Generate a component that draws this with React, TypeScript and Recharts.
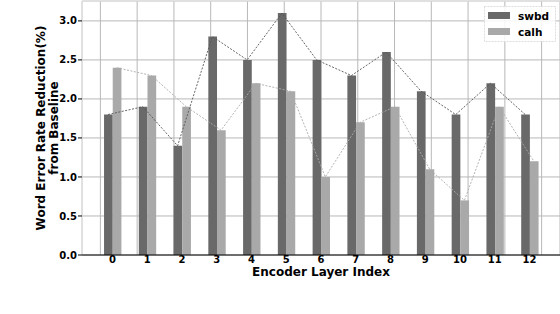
import React from "react";
import {
  ComposedChart,
  Bar,
  Line,
  XAxis,
  YAxis,
  CartesianGrid,
  ReferenceLine,
} from "recharts";

const layers = [0, 1, 2, 3, 4, 5, 6, 7, 8, 9, 10, 11, 12];
const swbd = [1.8, 1.9, 1.4, 2.8, 2.5, 3.1, 2.5, 2.3, 2.6, 2.1, 1.8, 2.2, 1.8];
const calh = [2.4, 2.3, 1.9, 1.6, 2.2, 2.1, 1.0, 1.7, 1.9, 1.1, 0.7, 1.9, 1.2];
const yTicks = [0, 0.5, 1.0, 1.5, 2.0, 2.5, 3.0];

const data = layers.map((l, i) => ({ layer: l, swbd: swbd[i], calh: calh[i] }));

const FONT = "'DejaVu Sans', sans-serif";
const DARK = "#696969";
const LIGHT = "#a9a9a9";

const YLabel = () => (
  <g>
    <text
      transform="translate(45,128) rotate(-90)"
      textAnchor="middle"
      fontFamily={FONT}
      fontWeight="bold"
      fontSize={12}
      fill="#000"
    >
      Word Error Rate Reduction(%)
    </text>
    <text
      transform="translate(58,128) rotate(-90)"
      textAnchor="middle"
      fontFamily={FONT}
      fontWeight="bold"
      fontSize={12}
      fill="#000"
    >
      from Baseline
    </text>
  </g>
);

const Legend = () => (
  <g fontFamily={FONT} fontWeight="bold" fontSize={10.5}>
    <rect x={484.5} y={6.5} width={71} height={35} fill="#fff" fillOpacity={0.85} stroke="#ddd" strokeDasharray="2 1" />
    <rect x={488} y={12} width={22} height={7} fill={DARK} />
    <text x={518} y={19.5} fill="#000">swbd</text>
    <rect x={488} y={28} width={22} height={7} fill={LIGHT} />
    <text x={518} y={35.5} fill="#000">calh</text>
  </g>
);

export default function App() {
  return (
    <div style={{ position: "fixed", left: 0, top: 0, width: 560, height: 314, background: "#fff" }}>
      <ComposedChart
        width={560}
        height={314}
        data={data}
        margin={{ top: 1, right: 0, bottom: 0, left: 12 }}
        barGap={0}
      >
        <CartesianGrid stroke="#b8b8b8" strokeWidth={1} />
        <XAxis
          xAxisId="main"
          dataKey="layer"
          type="number"
          domain={[-0.875, 12.875]}
          ticks={layers}
          interval={0}
          allowDataOverflow
          axisLine={{ stroke: "#000", strokeWidth: 1.2 }}
          tickLine={false}
          tickSize={0}
          tickMargin={1}
          height={59}
          tick={{ fontFamily: FONT, fontWeight: "bold", fontSize: 10, fill: "#000" }}
          label={{
            value: "Encoder Layer Index",
            position: "insideTop",
            offset: 12,
            style: { fontFamily: FONT, fontWeight: "bold", fontSize: 12, fill: "#000" },
          }}
        />
        <XAxis xAxisId="s" dataKey="layer" type="number" domain={[-0.75, 13]} hide height={0} allowDataOverflow />
        <XAxis xAxisId="c" dataKey="layer" type="number" domain={[-1, 12.75]} hide height={0} allowDataOverflow />
        <YAxis
          type="number"
          domain={[0, 3.255]}
          ticks={yTicks}
          allowDataOverflow
          width={70}
          axisLine={false}
          tickLine={{ stroke: "#000" }}
          tickSize={4}
          tickMargin={1}
          tickFormatter={(v: number) => v.toFixed(1)}
          tick={{ fontFamily: FONT, fontWeight: "bold", fontSize: 10, fill: "#000" }}
        />
        <ReferenceLine xAxisId="main" y={3.255} stroke="#e6e6e6" />
        <ReferenceLine xAxisId="main" x={-0.875} stroke="#e6e6e6" />
        <Bar xAxisId="main" dataKey="swbd" fill={DARK} barSize={8.69} isAnimationActive={false} />
        <Bar xAxisId="main" dataKey="calh" fill={LIGHT} barSize={8.69} isAnimationActive={false} />
        <Line
          xAxisId="s"
          dataKey="swbd"
          stroke="#555"
          strokeWidth={0.9}
          strokeDasharray="2 1.5"
          dot={false}
          isAnimationActive={false}
        />
        <Line
          xAxisId="c"
          dataKey="calh"
          stroke="#aaa"
          strokeWidth={0.9}
          strokeDasharray="2 1.5"
          dot={false}
          isAnimationActive={false}
        />
        <YLabel />
        <Legend />
      </ComposedChart>
    </div>
  );
}
